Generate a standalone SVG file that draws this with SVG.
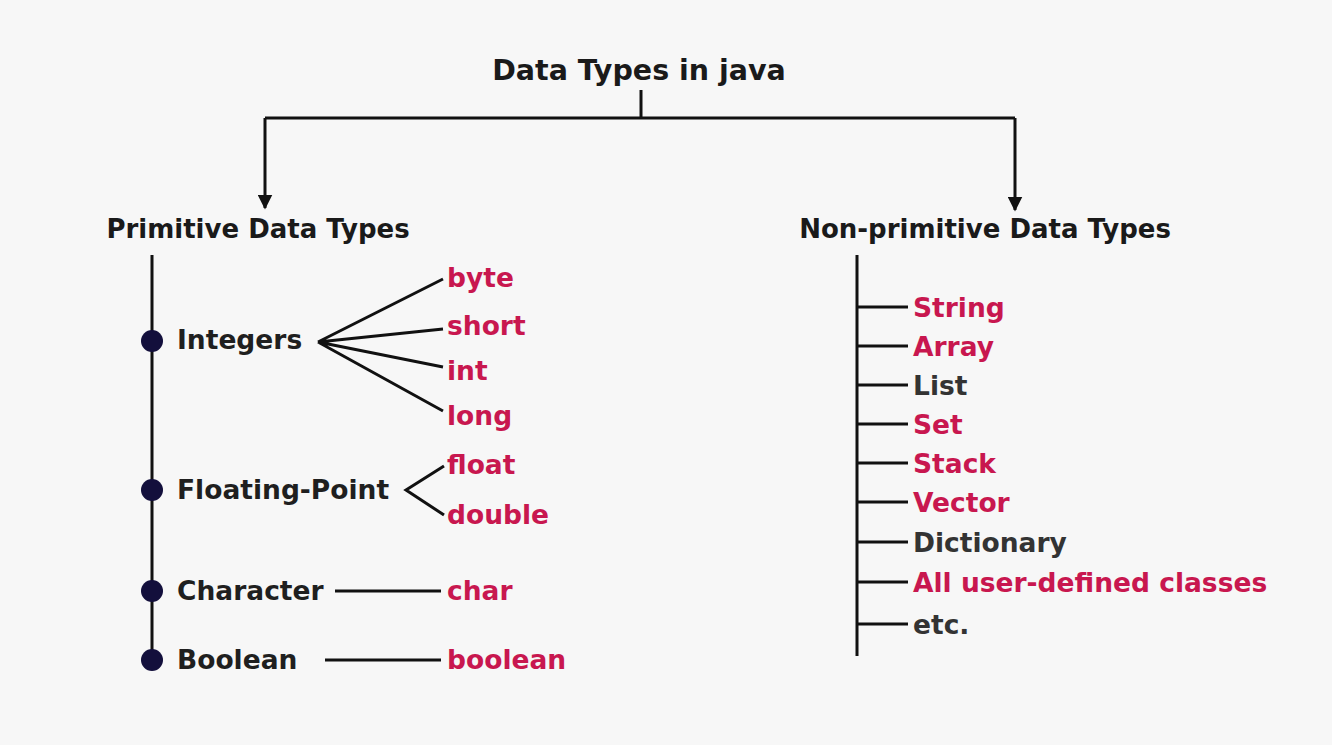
<svg xmlns="http://www.w3.org/2000/svg" width="1332" height="745" viewBox="0 0 1332 745">
<style>
text{font-family:"DejaVu Sans","Liberation Sans",sans-serif;font-weight:bold;dominant-baseline:central}
.t{font-size:28.5px;fill:#1a1a1a}
.h{font-size:26px;fill:#1a1a1a}
.c{font-size:26.5px;fill:#1f1f1f}
.leaf{font-size:26.5px;fill:#c8174f}
.dk{font-size:26.5px;fill:#333}
.ln{stroke:#111;stroke-width:3;fill:none}
.dot{fill:#130f3c}
</style>
<defs>
<marker id="ah" viewBox="0 0 10 10" refX="9" refY="5" markerWidth="5" markerHeight="5" orient="auto" markerUnits="strokeWidth">
<path d="M0,0 L10,5 L0,10 z" fill="#111"/>
</marker>
</defs>
<rect width="1332" height="745" fill="#f7f7f7"/>
<g id="connectors">
<path class="ln" d="M641,90 V118"/>
<path class="ln" d="M265,118 H1015"/>
<path class="ln" d="M265,118 V208" marker-end="url(#ah)"/>
<path class="ln" d="M1015,118 V210" marker-end="url(#ah)"/>
<path class="ln" d="M152,255 V668"/>
<path class="ln" d="M318,342 L443,279 M318,342 L443,329 M318,342 L443,367 M318,342 L443,411"/>
<path class="ln" d="M444,466 L406,490 L444,515"/>
<path class="ln" d="M335,591 H441"/>
<path class="ln" d="M325,660 H441"/>
<path class="ln" d="M857,255 V656"/>
<path class="ln" d="M857,307 H908 M857,346 H908 M857,385 H908 M857,424 H908 M857,463 H908 M857,502 H908 M857,542 H908 M857,582 H908 M857,624 H908"/>
</g>
<g id="title"><text class="t" x="639" y="70" text-anchor="middle">Data Types in java</text></g>
<g id="primitive"><text class="h" x="258" y="229" text-anchor="middle">Primitive Data Types</text></g>
<g id="nonprimitive"><text class="h" x="985" y="229" text-anchor="middle">Non-primitive Data Types</text></g>
<g id="integers"><circle class="dot" cx="152" cy="341" r="11"/><text class="c" x="177" y="339">Integers</text></g>
<g id="floating"><circle class="dot" cx="152" cy="490" r="11"/><text class="c" x="177" y="489">Floating-Point</text></g>
<g id="character"><circle class="dot" cx="152" cy="591" r="11"/><text class="c" x="177" y="590">Character</text></g>
<g id="boolean"><circle class="dot" cx="152" cy="660" r="11"/><text class="c" x="177" y="659">Boolean</text></g>
<g id="byte"><text class="leaf" x="447" y="277">byte</text></g>
<g id="short"><text class="leaf" x="447" y="325">short</text></g>
<g id="int"><text class="leaf" x="447" y="370">int</text></g>
<g id="long"><text class="leaf" x="447" y="415">long</text></g>
<g id="float"><text class="leaf" x="447" y="464">float</text></g>
<g id="double"><text class="leaf" x="447" y="514">double</text></g>
<g id="char"><text class="leaf" x="447" y="590">char</text></g>
<g id="booleanT"><text class="leaf" x="447" y="659">boolean</text></g>
<g id="string"><text class="leaf" x="913" y="307">String</text></g>
<g id="array"><text class="leaf" x="913" y="346">Array</text></g>
<g id="list"><text class="dk" x="913" y="385">List</text></g>
<g id="set"><text class="leaf" x="913" y="424">Set</text></g>
<g id="stack"><text class="leaf" x="913" y="463">Stack</text></g>
<g id="vector"><text class="leaf" x="913" y="502">Vector</text></g>
<g id="dictionary"><text class="dk" x="913" y="542">Dictionary</text></g>
<g id="userclasses"><text class="leaf" x="913" y="582">All user-defined classes</text></g>
<g id="etc"><text class="dk" x="913" y="624">etc.</text></g>
</svg>
